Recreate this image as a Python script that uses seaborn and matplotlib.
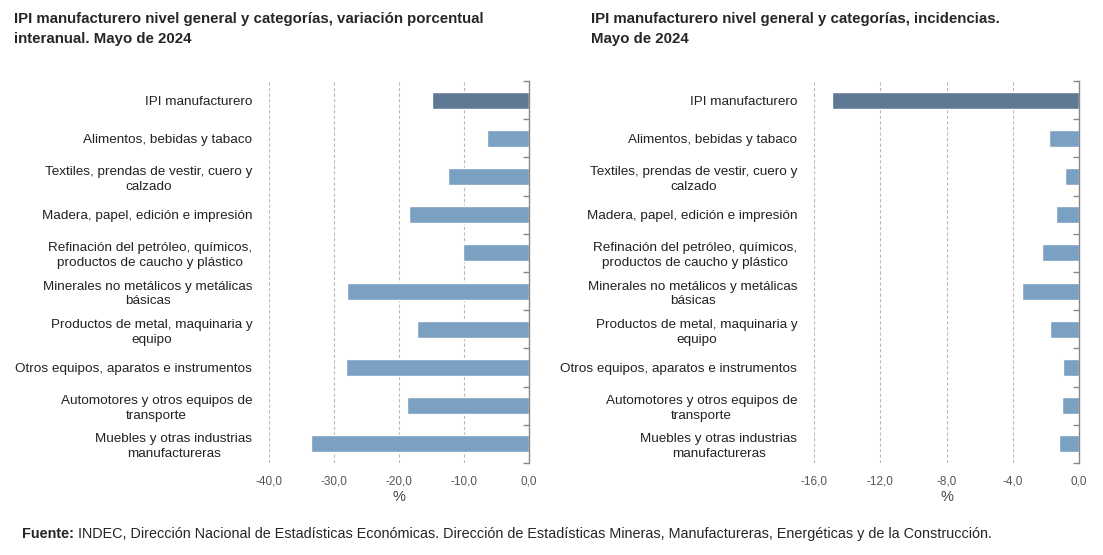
import seaborn as sns
import pandas as pd
import matplotlib.pyplot as plt
from matplotlib.ticker import FuncFormatter

# datos
categorias = ["IPI manufacturero",
              "Alimentos, bebidas y tabaco",
              "Textiles, prendas de vestir, cuero y\ncalzado",
              "Madera, papel, edición e impresión",
              "Refinación del petróleo, químicos,\nproductos de caucho y plástico",
              "Minerales no metálicos y metálicas\nbásicas",
              "Productos de metal, maquinaria y\nequipo",
              "Otros equipos, aparatos e instrumentos",
              "Automotores y otros equipos de\ntransporte",
              "Muebles y otras industrias\nmanufactureras"]
variacion = [-14.9, -6.5, -12.5, -18.4, -10.1, -28.0, -17.3, -28.1, -18.7, -33.6]
incidencia = [-14.9, -1.8, -0.85, -1.4, -2.25, -3.45, -1.75, -0.95, -1.0, -1.2]
ticks_izq = [-40, -30, -20, -10, 0]
ticks_der = [-16, -12, -8, -4, 0]

oscuro = "#5f7894"
claro = "#7aa0c2"
colores = [oscuro] + [claro] * 9

sns.set_theme(style="white")
plt.rcParams['font.family'] = ['Liberation Sans', 'DejaVu Sans']

fig = plt.figure(figsize=(11.03, 5.55), dpi=100)
ax1 = fig.add_axes([269 / 1103, 1 - 463 / 555, 260 / 1103, 382 / 555])
ax2 = fig.add_axes([814 / 1103, 1 - 463 / 555, 265 / 1103, 382 / 555])


def coma(v, pos):
    return f"{v:.1f}".replace(".", ",")


def dibujar(ax, valores, ticks):
    df = pd.DataFrame({"cat": categorias, "val": valores})
    sns.barplot(data=df, x="val", y="cat", hue="cat", palette=colores,
                legend=False, width=0.44, orient="h", ax=ax, saturation=1)
    ax.set_xlim(ticks[0], 0)
    ax.set_ylim(9.5, -0.5)
    ax.set_xticks(ticks)
    ax.xaxis.set_major_formatter(FuncFormatter(coma))
    ax.set_xlabel("%", fontsize=10.5, color="#444444", labelpad=2)
    ax.set_ylabel("")
    for x in ticks[:-1]:
        ax.axvline(x, color="#bbbbbb", ls=(0, (3, 2)), lw=0.8, zorder=0)
    for s in ["top", "bottom", "left"]:
        ax.spines[s].set_visible(False)
    ax.spines["right"].set_color("#888888")
    ax.spines["right"].set_linewidth(1)
    ax.tick_params(axis="x", length=0, pad=9, labelsize=8.5, labelcolor="#555555")
    ax.tick_params(axis="y", which="major", length=0, pad=12, labelsize=9.7,
                   labelcolor="#222222")
    ax.set_yticks([i + 0.5 for i in range(-1, 10)], minor=True)
    ax.tick_params(axis="y", which="minor", left=False, right=True,
                   direction="in", length=4, color="#888888")
    for lab in ax.get_yticklabels():
        lab.set_multialignment("center")
        lab.set_linespacing(1.3)


dibujar(ax1, variacion, ticks_izq)
dibujar(ax2, incidencia, ticks_der)

fig.text(14 / 1103, 1 - 12 / 555,
         "IPI manufacturero nivel general y categorías, variación porcentual\ninteranual. Mayo de 2024",
         fontweight="bold", fontsize=10.8, va="top", ha="left",
         linespacing=1.5)
fig.text(591 / 1103, 1 - 12 / 555,
         "IPI manufacturero nivel general y categorías, incidencias.\nMayo de 2024",
         fontweight="bold", fontsize=10.8, va="top", ha="left",
         linespacing=1.5)

f = fig.text(22 / 1103, 1 - 534 / 555, "Fuente:",
             fontweight="bold", fontsize=10.4, va="center", ha="left")
ax1.annotate(" INDEC, Dirección Nacional de Estadísticas Económicas. Dirección de Estadísticas Mineras, "
             "Manufactureras, Energéticas y de la Construcción.",
             xy=(1, 0.5), xycoords=f, va="center", ha="left",
             fontsize=10.4, annotation_clip=False)

plt.savefig("out.png", dpi=100)
